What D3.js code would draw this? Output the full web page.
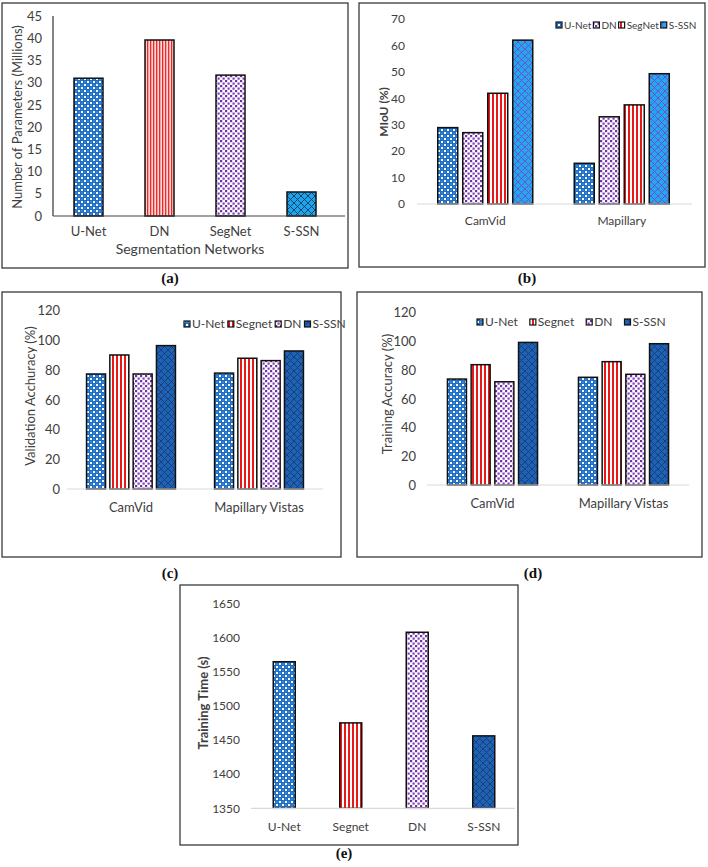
<!DOCTYPE html>
<html><head><meta charset="utf-8">
<script src="https://cdn.jsdelivr.net/npm/d3@7"></script>
<style>
body{margin:0;background:#fff}
svg{display:block}
text{font-family:Lato,"Open Sans",sans-serif;fill:#404040}
</style>
</head><body>
<svg id="chart" width="708" height="867"></svg>
<script>
// ---------------- DATA ----------------
// (a) Number of parameters
const aCategories = ["U-Net", "DN", "SegNet", "S-SSN"];
const aParams = [31.0, 39.6, 31.7, 5.4];
const aTicks = [0, 5, 10, 15, 20, 25, 30, 35, 40, 45];

// (b) MIoU
const bGroups = ["CamVid", "Mapillary"];
const bSeries = ["U-Net", "DN", "SegNet", "S-SSN"];
const bUNet = [28.9, 15.4];
const bDN = [27.0, 33.0];
const bSegNet = [41.9, 37.5];
const bSSSN = [62.0, 49.3];
const bTicks = [0, 10, 20, 30, 40, 50, 60, 70];

// (c) Validation accuracy
const cGroups = ["CamVid", "Mapillary Vistas"];
const cSeries = ["U-Net", "Segnet", "DN", "S-SSN"];
const cUNet = [77.4, 78.0];
const cSegnet = [90.2, 88.0];
const cDN = [77.4, 86.4];
const cSSSN = [96.5, 92.9];
const cTicks = [0, 20, 40, 60, 80, 100, 120];

// (d) Training accuracy
const dGroups = ["CamVid", "Mapillary Vistas"];
const dSeries = ["U-Net", "Segnet", "DN", "S-SSN"];
const dUNet = [73.8, 75.0];
const dSegnet = [83.8, 85.9];
const dDN = [71.9, 77.1];
const dSSSN = [99.3, 98.4];
const dTicks = [0, 20, 40, 60, 80, 100, 120];

// (e) Training time
const eCategories = ["U-Net", "Segnet", "DN", "S-SSN"];
const eTime = [1564.5, 1475, 1607.6, 1456];
const eTicks = [1350, 1400, 1450, 1500, 1550, 1600, 1650];

// ---------------- PATTERNS ----------------
const svg = d3.select("#chart");
const defs = svg.append("defs");
function pattern(id, w, h, draw) {
  const p = defs.append("pattern").attr("id", id)
    .attr("patternUnits", "userSpaceOnUse").attr("width", w).attr("height", h);
  draw(p);
}
pattern("blueDots", 6, 6, p => {
  p.append("rect").attr("width", 6).attr("height", 6).attr("fill", "#1d6fc6");
  p.append("rect").attr("x", 0).attr("y", 0).attr("width", 2).attr("height", 2).attr("fill", "#ffffff");
  p.append("rect").attr("x", 3).attr("y", 3).attr("width", 2).attr("height", 2).attr("fill", "#ffffff");
  p.append("circle").attr("cx", 4).attr("cy", 1).attr("r", 0.6).attr("fill", "#9cc6ee");
  p.append("circle").attr("cx", 1).attr("cy", 4).attr("r", 0.6).attr("fill", "#9cc6ee");
});
pattern("purpleDots", 5, 5, p => {
  p.append("rect").attr("width", 5).attr("height", 5).attr("fill", "#ffffff");
  p.append("rect").attr("x", 0).attr("y", 0).attr("width", 2.2).attr("height", 2.2).attr("fill", "#7030a8");
  p.append("rect").attr("x", 2.5).attr("y", 2.5).attr("width", 2.2).attr("height", 2.2).attr("fill", "#8040b8");
});
pattern("redStripes", 4, 4, p => {
  p.append("rect").attr("width", 4).attr("height", 4).attr("fill", "#ffffff");
  p.append("rect").attr("x", 0).attr("width", 2).attr("height", 4).attr("fill", "#e81818");
});
pattern("pinkStripes", 3, 4, p => {
  p.append("rect").attr("width", 3).attr("height", 4).attr("fill", "#fbd4d4");
  p.append("rect").attr("x", 0).attr("width", 1.3).attr("height", 4).attr("fill", "#ee2a2a");
});
function hatch(id, bg, line, sw) {
  pattern(id, 7, 7, p => {
    p.append("rect").attr("width", 7).attr("height", 7).attr("fill", bg);
    p.append("path").attr("d", "M0,0L7,7M7,0L0,7").attr("stroke", line)
      .attr("stroke-width", sw).attr("fill", "none");
  });
}
hatch("hatchCyan", "#1aa6ec", "#14385e", 0.9);
hatch("hatchCyanPurple", "#22a8f0", "#7a45c0", 0.9);
hatch("hatchNavy", "#1e62b6", "#1a3f78", 1.0);

// ---------------- DRAWING ----------------
function drawPanel(cfg) {
  const g = svg.append("g");
  g.append("rect").attr("x", cfg.box[0]).attr("y", cfg.box[1])
    .attr("width", cfg.box[2] - cfg.box[0]).attr("height", cfg.box[3] - cfg.box[1])
    .attr("fill", "none").attr("stroke", "#3a3a3a").attr("stroke-width", 1.3);
  g.append("text").attr("x", cfg.tag[0]).attr("y", cfg.tag[1]).attr("text-anchor", "middle")
    .style("font-family", "'Liberation Serif','Times New Roman',serif").style("font-weight", "bold")
    .style("font-size", "15px").style("fill", "#111").text(cfg.tagText);

  const y = d3.scaleLinear().domain([cfg.ticks[0], cfg.ticks[cfg.ticks.length - 1]]).range(cfg.yRange);
  const x0 = d3.scaleBand().domain(cfg.groups).range(cfg.xRange);
  const n = cfg.series.length;
  const x1 = d3.scaleBand().domain(cfg.series.map(s => s.name))
    .range([-n * cfg.subStep / 2, n * cfg.subStep / 2]);

  const ya = g.append("g").attr("transform", `translate(${cfg.yLabelX},0)`)
    .call(d3.axisLeft(y).tickValues(cfg.ticks).tickSize(0).tickPadding(0).tickFormat(d3.format("d")));
  ya.select(".domain").remove();
  ya.selectAll("text").style("font-size", cfg.tickFont + "px").style("font-family", "Lato,'Open Sans',sans-serif").attr("fill", "#404040");

  if (cfg.yAxisLine) {
    g.append("line").attr("x1", cfg.xRange[0]).attr("x2", cfg.xRange[0])
      .attr("y1", cfg.yRange[1]).attr("y2", cfg.yRange[0]).attr("stroke", "#333").attr("stroke-width", 1.2);
  }

  cfg.series.forEach((s) => {
    g.append("g").selectAll("rect").data(cfg.groups.map((gr, gi) => ({ gr, gi, v: s.values[gi] })))
      .join("rect")
      .attr("x", d => x0(d.gr) + x0.bandwidth() / 2 + x1(s.name) + (x1.bandwidth() - cfg.barW) / 2)
      .attr("width", cfg.barW)
      .attr("y", d => y(d.v))
      .attr("height", d => y(cfg.ticks[0]) - y(d.v))
      .attr("fill", d => `url(#${s.fills ? s.fills[d.gi] : s.fill})`)
      .attr("stroke", "#111").attr("stroke-width", 1.5);
  });

  g.append("line").attr("x1", cfg.xRange[0]).attr("x2", cfg.xAxisEnd || cfg.xRange[1])
    .attr("y1", y(cfg.ticks[0])).attr("y2", y(cfg.ticks[0]))
    .attr("stroke", cfg.baseColor).attr("stroke-width", 1.2);

  const xa = g.append("g").attr("transform", `translate(0,${cfg.xLabelY})`)
    .call(d3.axisBottom(x0).tickSize(0).tickPadding(0));
  xa.select(".domain").remove();
  xa.selectAll("text").attr("dy", "0.35em").attr("y", 0)
    .style("font-size", cfg.catFont + "px").style("font-family", "Lato,'Open Sans',sans-serif").attr("fill", "#404040");

  g.append("text").attr("transform", `translate(${cfg.yTitle[0]},${cfg.yTitle[1]}) rotate(-90)`)
    .attr("text-anchor", "middle").attr("dy", "0.35em")
    .style("font-size", cfg.yTitleFont + "px").style("font-weight", cfg.yTitleWeight || "normal")
    .text(cfg.yTitleText);

  if (cfg.xTitleText) {
    g.append("text").attr("x", cfg.xTitle[0]).attr("y", cfg.xTitle[1]).attr("text-anchor", "middle")
      .attr("dy", "0.35em").style("font-size", cfg.xTitleFont + "px").text(cfg.xTitleText);
  }

  if (cfg.legend) {
    let lx = cfg.legend.x;
    const ly = cfg.legend.y, sq = cfg.legend.sq;
    cfg.series.forEach((s) => {
      g.append("rect").attr("x", lx).attr("y", ly - sq / 2).attr("width", sq).attr("height", sq)
        .attr("fill", `url(#${s.fill})`).attr("stroke", "#111").attr("stroke-width", 1.2);
      const t = g.append("text").attr("x", lx + sq + 2).attr("y", ly).attr("dy", "0.35em")
        .style("font-size", cfg.legend.font + "px").text(s.name);
      lx = lx + sq + 2 + t.node().getComputedTextLength() + cfg.legend.gap;
    });
  }
}

// (a)
drawPanel({
  box: [2, 3, 348, 268], tag: [170, 283], tagText: "(a)",
  groups: aCategories, ticks: aTicks,
  series: [{ name: "params", values: aParams, fills: ["blueDots", "pinkStripes", "purpleDots", "hatchCyan"] }],
  xRange: [53, 337], xAxisEnd: 345, yRange: [216, 16], subStep: 29, barW: 29,
  yLabelX: 42, tickFont: 13, xLabelY: 231, catFont: 13, yAxisLine: true, baseColor: "#444",
  yTitle: [17, 117], yTitleText: "Number of Parameters (Millions)", yTitleFont: 13,
  xTitle: [190, 249], xTitleText: "Segmentation Networks", xTitleFont: 14
});

// (b)
drawPanel({
  box: [359, 3, 705, 267], tag: [527, 283], tagText: "(b)",
  groups: bGroups, ticks: bTicks,
  series: [
    { name: bSeries[0], values: bUNet, fill: "blueDots" },
    { name: bSeries[1], values: bDN, fill: "purpleDots" },
    { name: bSeries[2], values: bSegNet, fill: "redStripes" },
    { name: bSeries[3], values: bSSSN, fill: "hatchCyanPurple" }],
  xRange: [417, 690], xAxisEnd: 692, yRange: [204, 19], subStep: 25, barW: 20,
  yLabelX: 405, tickFont: 12, xLabelY: 221, catFont: 12, baseColor: "#d9d9d9",
  yTitle: [384, 112], yTitleText: "MIoU (%)", yTitleFont: 12, yTitleWeight: "bold",
  legend: { x: 556, y: 25, sq: 6, font: 10, gap: 2 }
});

// (c)
drawPanel({
  box: [2, 292, 341, 557], tag: [170, 578], tagText: "(c)",
  groups: cGroups, ticks: cTicks,
  series: [
    { name: cSeries[0], values: cUNet, fill: "blueDots" },
    { name: cSeries[1], values: cSegnet, fill: "redStripes" },
    { name: cSeries[2], values: cDN, fill: "purpleDots" },
    { name: cSeries[3], values: cSSSN, fill: "hatchNavy" }],
  xRange: [67, 323], yRange: [489, 310.7], subStep: 23.3, barW: 19,
  yLabelX: 60, tickFont: 13, xLabelY: 507, catFont: 13, baseColor: "#d9d9d9",
  yTitle: [30, 396], yTitleText: "Validation Acchuracy (%)", yTitleFont: 13,
  legend: { x: 184, y: 324, sq: 6, font: 12, gap: 3 }
});

// (d)
drawPanel({
  box: [357, 292, 702, 557], tag: [533, 578], tagText: "(d)",
  groups: dGroups, ticks: dTicks,
  series: [
    { name: dSeries[0], values: dUNet, fill: "blueDots" },
    { name: dSeries[1], values: dSegnet, fill: "redStripes" },
    { name: dSeries[2], values: dDN, fill: "purpleDots" },
    { name: dSeries[3], values: dSSSN, fill: "hatchNavy" }],
  xRange: [427, 689], yRange: [485, 312.7], subStep: 23.7, barW: 19,
  yLabelX: 416, tickFont: 13, xLabelY: 503, catFont: 13, baseColor: "#d9d9d9",
  yTitle: [387, 394], yTitleText: "Training Accuracy (%)", yTitleFont: 13,
  legend: { x: 477, y: 322, sq: 6, font: 12, gap: 12 }
});

// (e)
drawPanel({
  box: [180, 585, 518, 845], tag: [344, 858], tagText: "(e)",
  groups: eCategories, ticks: eTicks,
  series: [{ name: "time", values: eTime, fills: ["blueDots", "redStripes", "purpleDots", "hatchNavy"] }],
  xRange: [251, 517], xAxisEnd: 515, yRange: [808.3, 603.3], subStep: 22, barW: 22,
  yLabelX: 240, tickFont: 12, xLabelY: 827, catFont: 12, baseColor: "#d9d9d9",
  yTitle: [203, 703], yTitleText: "Training Time (s)", yTitleFont: 13, yTitleWeight: "bold"
});
</script>
</body></html>
